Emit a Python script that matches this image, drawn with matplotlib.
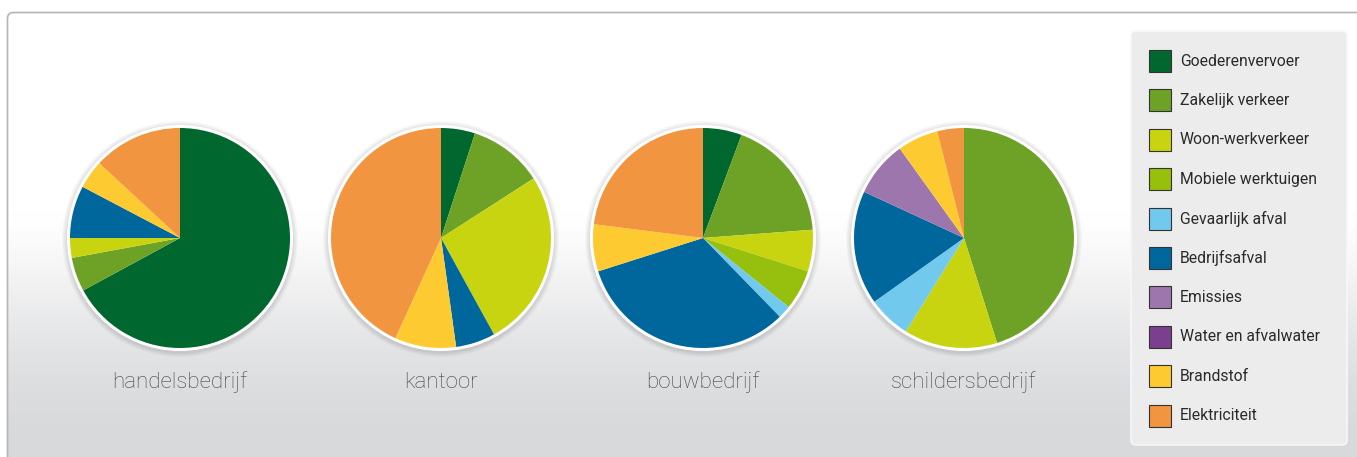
import numpy as np
import matplotlib
matplotlib.use("Agg")
import matplotlib.pyplot as plt
from matplotlib.patches import FancyBboxPatch, Circle, Rectangle

# categories and colours (legend order)
categories = ["Goederenvervoer", "Zakelijk verkeer", "Woon-werkverkeer", "Mobiele werktuigen",
              "Gevaarlijk afval", "Bedrijfsafval", "Emissies", "Water en afvalwater",
              "Brandstof", "Elektriciteit"]
colors = ["#00682e", "#6ea226", "#c8d40f", "#97bf0d", "#72c9ee",
          "#00679c", "#9e76ae", "#7b3f8f", "#fdcb31", "#f19540"]

# share (%) per category
companies = ["handelsbedrijf", "kantoor", "bouwbedrijf", "schildersbedrijf"]
handelsbedrijf = [67.1, 5.0, 2.9, 0, 0, 7.7, 0, 0, 4.2, 13.1]
kantoor = [5.0, 10.9, 26.1, 0, 0, 5.8, 0, 0, 9.0, 43.2]
bouwbedrijf = [5.7, 18.1, 6.1, 5.9, 1.9, 32.4, 0, 0, 6.9, 23.0]
schildersbedrijf = [0, 45.1, 13.7, 0, 6.3, 16.7, 8.2, 0, 6.0, 3.9]
shares = [handelsbedrijf, kantoor, bouwbedrijf, schildersbedrijf]

W, H = 1357, 457
fig = plt.figure(figsize=(W / 100, H / 100), dpi=100)
fig.patch.set_facecolor("white")
ax = fig.add_axes([0, 0, 1, 1])

# panel background with gradient
panel = FancyBboxPatch((7.5, -20), W + 20, H - 12 + 20 - 0.5,
                       boxstyle="round,pad=0,rounding_size=6",
                       facecolor="none", edgecolor="#b4b4b4", lw=1.2, zorder=2)
ax.add_patch(panel)
yy = np.linspace(0, 1, 256)
top_c = np.array([1.0, 1.0, 1.0])
bot_c = np.array([0xd8, 0xd9, 0xdb]) / 255
t = np.clip((0.55 - yy) / 0.55, 0, 1)  # yy=0 bottom, white in upper half
t = np.sin(t * np.pi / 2) ** 1.3
grad = (top_c[None, :] * (1 - t[:, None]) + bot_c[None, :] * t[:, None])
img = ax.imshow(grad[:, None, :], extent=(7.5, W + 10, 0, H - 12), origin="lower",
                aspect="auto", zorder=1)
img.set_clip_path(panel)

centers = [180, 441, 703, 964]
cy = H - 238
r = 110

for cx, vals, name in zip(centers, shares, companies):
    # soft shadow
    for k in range(6):
        ax.add_patch(Circle((cx, cy - 1), r + 4 + k * 0.8, facecolor="#000000",
                            alpha=0.02, edgecolor="none", zorder=3))
    ax.add_patch(Circle((cx, cy), r + 3, facecolor="white", edgecolor="none", zorder=4))
    vs = [v for v in vals if v > 0]
    cs = [c for v, c in zip(vals, colors) if v > 0]
    wedges, _ = ax.pie(vs, colors=cs, startangle=90, counterclock=False,
                       center=(cx, cy), radius=r,
                       wedgeprops=dict(edgecolor="none", linewidth=0))
    for w in wedges:
        w.set_zorder(5)
    ax.text(cx, H - 382, name, ha="center", va="center", fontsize=16,
            family="Roboto", fontweight="light", color="#454545", zorder=6)

ax.set_xlim(0, W)
ax.set_ylim(0, H)
ax.set_aspect("auto")
ax.set_axis_off()

# legend box
lx, ly_top, lw_, lh = 1131, 31, 216, 414
ax.add_patch(FancyBboxPatch((lx, H - ly_top - lh), lw_, lh,
                            boxstyle="round,pad=0,rounding_size=5",
                            facecolor="#ebeceb", edgecolor="#f7f7f7", lw=1.2, zorder=6))
for i, (lab, c) in enumerate(zip(categories, colors)):
    yc = H - (61 + i * 39.4)
    ax.add_patch(Rectangle((1149, yc - 11), 22, 22, facecolor=c,
                           edgecolor="#333333", lw=0.8, zorder=7))
    ax.text(1180, yc, lab, ha="left", va="center", fontsize=11.3,
            family="Roboto", color="#2a2a2a", zorder=7)

fig.savefig("out.png", dpi=100)
